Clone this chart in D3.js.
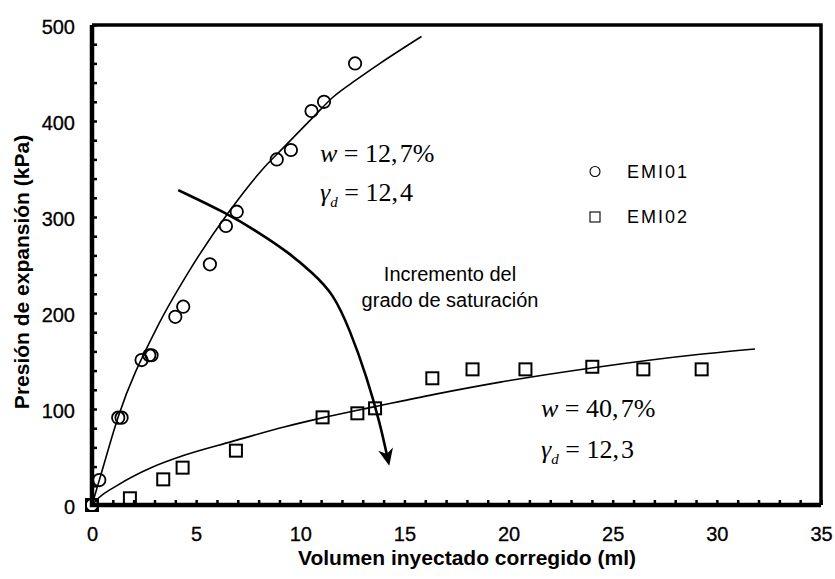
<!DOCTYPE html>
<html>
<head>
<meta charset="utf-8">
<script src="https://cdn.jsdelivr.net/npm/d3@7"></script>
<style>
  body { margin: 0; background: #fff; }
  text { font-family: "Liberation Sans", Arial, sans-serif; fill: #000; }
  .math { font-family: "Liberation Serif", "Times New Roman", serif; }
</style>
</head>
<body>
<script>
// data
var xTicks = [0, 5, 10, 15, 20, 25, 30, 35];
var yTicks = [0, 100, 200, 300, 400, 500];

// EMI01 (circles)
var emi01X = [0, 0.35, 1.26, 1.42, 2.38, 2.75, 2.86, 4.0, 4.38, 5.66, 6.43, 6.95, 8.87, 9.55, 10.54, 11.14, 12.63];
var emi01Y = [0, 26, 91, 91, 151, 156, 156, 196, 206.6, 250.7, 290.6, 305.5, 360, 369.8, 410.4, 420, 460];

// EMI02 (squares)
var emi02X = [0, 1.82, 3.42, 4.35, 6.91, 11.07, 12.74, 13.59, 16.34, 18.27, 20.81, 24.02, 26.47, 29.27];
var emi02Y = [0, 7, 26.7, 38.9, 56.6, 91.3, 95.5, 100.7, 132, 141.3, 141.3, 144, 141.3, 141.3];

// trend curves, read as points along the drawn lines
var fit01X = [0, 0.38, 1.26, 3.1, 4.7, 6.63, 8.16, 9.18, 10.62, 11.58, 12.7, 13.83, 15.82];
var fit01Y = [0, 28, 92, 184, 245, 307, 349, 372, 404, 425, 443, 460, 488];
var fit02X = [0, 0.3, 1.26, 2.86, 4.46, 6.7, 9.27, 11.1, 13.59, 16.5, 19.6, 24.07, 29.2, 31.83];
var fit02Y = [0, 7, 21, 39, 52, 66, 81.5, 91, 102.5, 115.5, 128, 143, 157, 162.5];

// "Incremento del grado de saturación" arrow
var arrowX = [4.14, 6.47, 8.07, 9.5, 10.6, 11.58, 12.39, 13.19, 13.83, 14.22];
var arrowY = [328, 304, 283, 262, 241.5, 220.5, 182, 133.6, 85, 46];

var svgWidth = 835;
var svgHeight = 579;
var margin = {top: 25, right: 14, bottom: 74, left: 92};
var width = svgWidth - margin.left - margin.right;
var height = svgHeight - margin.top - margin.bottom;

var svg = d3.select("body").append("svg")
  .attr("width", svgWidth)
  .attr("height", svgHeight);

svg.append("defs").append("marker")
  .attr("id", "head")
  .attr("markerUnits", "userSpaceOnUse")
  .attr("viewBox", "-14 -8 20 16")
  .attr("markerWidth", 20)
  .attr("markerHeight", 16)
  .attr("refX", 0)
  .attr("refY", 0)
  .attr("orient", "auto")
  .append("path")
  .attr("d", "M5,0 L-12,-7.5 L-7,0 L-12,7.5 Z")
  .attr("fill", "#000");

var g = svg.append("g")
  .attr("transform", `translate(${margin.left},${margin.top})`);

var x = d3.scaleLinear().domain([0, 35]).range([0, width]);
var y = d3.scaleLinear().domain([0, 500]).range([height, 0]);

// frame (top / right)
g.append("path")
  .attr("d", `M0,0 H${width} V${height}`)
  .attr("fill", "none")
  .attr("stroke", "#000")
  .attr("stroke-width", 3.5);

// minor ticks, pointing inside
g.append("g")
  .call(d3.axisLeft(y).tickValues(d3.range(0, 501, 20)).tickSize(-5).tickFormat("").tickSizeOuter(0))
  .call(a => a.selectAll("line").attr("stroke-width", 2.5))
  .call(a => a.select(".domain").remove());
g.append("g")
  .attr("transform", `translate(0,${height})`)
  .call(d3.axisBottom(x).tickValues(d3.range(0, 36, 1)).tickSize(-5).tickFormat("").tickSizeOuter(0))
  .call(a => a.selectAll("line").attr("stroke-width", 2.5))
  .call(a => a.select(".domain").remove());

// tick labels
g.append("g")
  .call(d3.axisLeft(y).tickValues(yTicks).tickSize(0).tickPadding(17))
  .call(a => a.select(".domain").remove())
  .call(a => a.selectAll("text").attr("font-size", 20).attr("font-family", "Liberation Sans, Arial, sans-serif")
    .attr("dy", "0.4em").attr("stroke", "#000").attr("stroke-width", 0.3));
g.append("g")
  .attr("transform", `translate(0,${height})`)
  .call(d3.axisBottom(x).tickValues(xTicks).tickSize(0).tickPadding(22))
  .call(a => a.select(".domain").remove())
  .call(a => a.selectAll("text").attr("font-size", 20).attr("font-family", "Liberation Sans, Arial, sans-serif")
    .attr("stroke", "#000").attr("stroke-width", 0.3));

// left / bottom axis lines
g.append("path")
  .attr("d", `M0,0 V${height} H${width}`)
  .attr("fill", "none")
  .attr("stroke", "#000")
  .attr("stroke-width", 4.5);

// axis titles
svg.append("text")
  .attr("x", 467)
  .attr("y", 565)
  .attr("text-anchor", "middle")
  .attr("font-size", 21)
  .attr("font-weight", "bold")
  .text("Volumen inyectado corregido (ml)");
svg.append("text")
  .attr("transform", "translate(29,272) rotate(-90)")
  .attr("text-anchor", "middle")
  .attr("font-size", 21)
  .attr("font-weight", "bold")
  .text("Presión de expansión (kPa)");

// trend lines
var line = d3.line().x(d => x(d[0])).y(d => y(d[1])).curve(d3.curveMonotoneX);
g.append("path")
  .datum(d3.zip(fit01X, fit01Y))
  .attr("d", line)
  .attr("fill", "none").attr("stroke", "#000").attr("stroke-width", 1.6);
g.append("path")
  .datum(d3.zip(fit02X, fit02Y))
  .attr("d", line)
  .attr("fill", "none").attr("stroke", "#000").attr("stroke-width", 1.6);

// arrow
var arrowLine = d3.line().x(d => x(d[0])).y(d => y(d[1])).curve(d3.curveBasis);
g.append("path")
  .datum(d3.zip(arrowX, arrowY))
  .attr("d", arrowLine)
  .attr("fill", "none").attr("stroke", "#000").attr("stroke-width", 2.6)
  .attr("marker-end", "url(#head)");

// markers
g.append("g").selectAll("rect")
  .data(d3.zip(emi02X, emi02Y))
  .join("rect")
  .attr("x", d => x(d[0]) - 6)
  .attr("y", d => y(d[1]) - 6)
  .attr("width", 12).attr("height", 12)
  .attr("fill", "none").attr("stroke", "#000").attr("stroke-width", 2);
g.append("g").selectAll("circle")
  .data(d3.zip(emi01X, emi01Y))
  .join("circle")
  .attr("cx", d => x(d[0]))
  .attr("cy", d => y(d[1]))
  .attr("r", 6.2)
  .attr("fill", "none").attr("stroke", "#000").attr("stroke-width", 1.8);

// legend
var legend = svg.append("g");
legend.append("circle").attr("cx", 595).attr("cy", 171.5).attr("r", 5)
  .attr("fill", "none").attr("stroke", "#000").attr("stroke-width", 1.1);
legend.append("rect").attr("x", 590).attr("y", 212).attr("width", 10).attr("height", 10)
  .attr("fill", "none").attr("stroke", "#000").attr("stroke-width", 1.1);
legend.append("text").attr("x", 627).attr("y", 177.5).attr("font-size", 18).attr("letter-spacing", 2).text("EMI01");
legend.append("text").attr("x", 627).attr("y", 222.5).attr("font-size", 18).attr("letter-spacing", 2).text("EMI02");

// annotations
var note = svg.append("text").attr("text-anchor", "middle").attr("font-size", 20);
note.append("tspan").attr("x", 450).attr("y", 281).text("Incremento del");
note.append("tspan").attr("x", 450).attr("y", 306.5).text("grado de saturación");

function wLabel(px, py, val) {
  var t = svg.append("text").attr("class", "math").attr("x", px).attr("y", py).attr("font-size", 26);
  t.append("tspan").attr("font-style", "italic").text("w");
  t.append("tspan").text(" = " + val);
}
function gLabel(px, py, val) {
  var t = svg.append("text").attr("class", "math").attr("x", px).attr("y", py).attr("font-size", 26);
  t.append("tspan").attr("font-style", "italic").text("γ");
  t.append("tspan").attr("font-style", "italic").attr("font-size", 15).attr("dy", 6).text("d");
  t.append("tspan").attr("dy", -6).text(" = " + val);
}
wLabel(320, 162, "12,\u200a7%");
gLabel(320, 201, "12,\u200a4");
wLabel(541, 417, "40,\u200a7%");
gLabel(541, 458, "12,\u200a3");
</script>
</body>
</html>
